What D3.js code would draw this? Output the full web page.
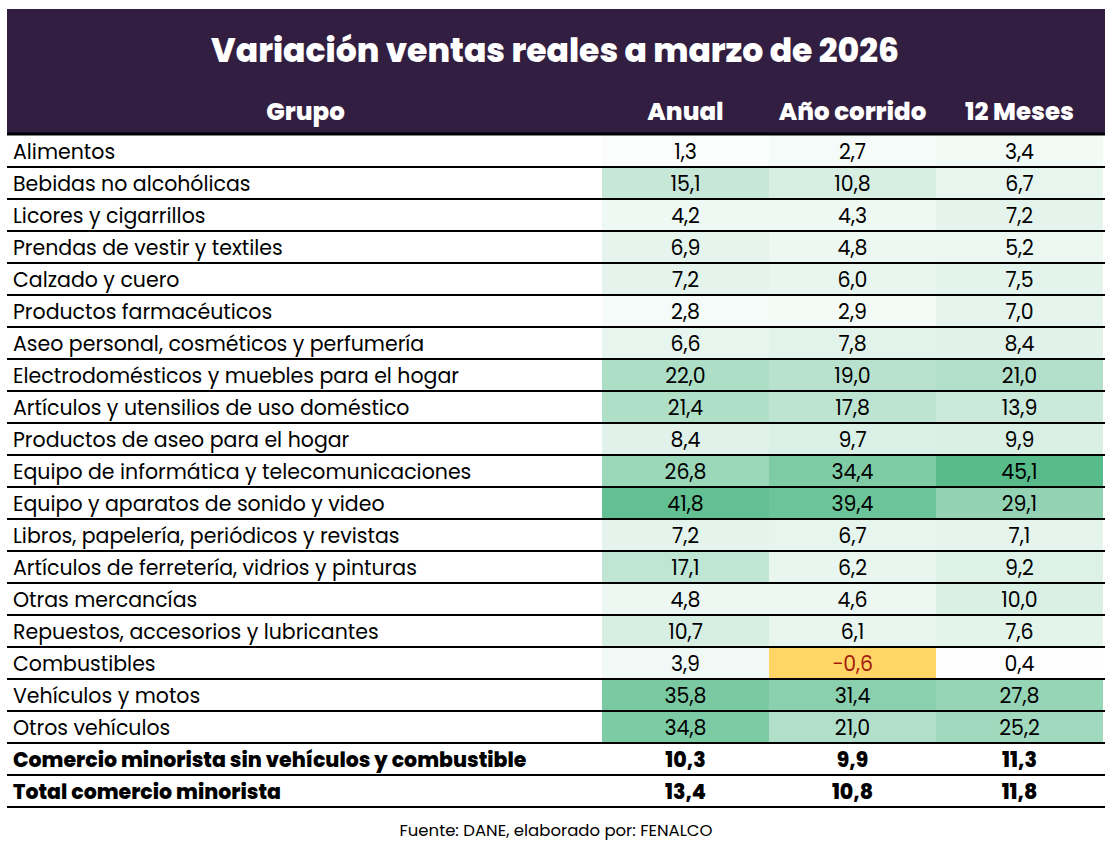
<!DOCTYPE html>
<html>
<head>
<meta charset="utf-8">
<script src="https://cdn.jsdelivr.net/npm/d3@7"></script>
<style>
  body { margin: 0; background: #fff; }
  text { font-family: Poppins, Inter, "Noto Sans", sans-serif; }
</style>
</head>
<body>
<div id="chart"></div>
<script>
// Table data
const title = "Variación ventas reales a marzo de 2026";
const columns = ["Anual", "Año corrido", "12 Meses"];
const grupos = [
  "Alimentos",
  "Bebidas no alcohólicas",
  "Licores y cigarrillos",
  "Prendas de vestir y textiles",
  "Calzado y cuero",
  "Productos farmacéuticos",
  "Aseo personal, cosméticos y perfumería",
  "Electrodomésticos y muebles para el hogar",
  "Artículos y utensilios de uso doméstico",
  "Productos de aseo para el hogar",
  "Equipo de informática y telecomunicaciones",
  "Equipo y aparatos de sonido y video",
  "Libros, papelería, periódicos y revistas",
  "Artículos de ferretería, vidrios y pinturas",
  "Otras mercancías",
  "Repuestos, accesorios y lubricantes",
  "Combustibles",
  "Vehículos y motos",
  "Otros vehículos",
  "Comercio minorista sin vehículos y combustible",
  "Total comercio minorista"
];
const anual = [1.3, 15.1, 4.2, 6.9, 7.2, 2.8, 6.6, 22.0, 21.4, 8.4, 26.8, 41.8, 7.2, 17.1, 4.8, 10.7, 3.9, 35.8, 34.8, 10.3, 13.4];
const anoCorrido = [2.7, 10.8, 4.3, 4.8, 6.0, 2.9, 7.8, 19.0, 17.8, 9.7, 34.4, 39.4, 6.7, 6.2, 4.6, 6.1, -0.6, 31.4, 21.0, 9.9, 10.8];
const meses12 = [3.4, 6.7, 7.2, 5.2, 7.5, 7.0, 8.4, 21.0, 13.9, 9.9, 45.1, 29.1, 7.1, 9.2, 10.0, 7.6, 0.4, 27.8, 25.2, 11.3, 11.8];
const totalRows = 2; // last two rows are totals (bold, no colour)
const fuente = "Fuente: DANE, elaborado por: FENALCO";

const width = 1114;
const height = 857;
const left = 7, right = 1105;
const headTop = 9, headBottom = 134;
const rowTop = 135, rowH = 32;
const colStart = 602;

const series = [anual, anoCorrido, meses12];

const svg = d3.select("#chart").append("svg")
  .attr("width", width)
  .attr("height", height);

const y = d3.scaleBand()
  .domain(d3.range(grupos.length))
  .range([rowTop, rowTop + rowH * grupos.length]);

const x = d3.scaleBand()
  .domain(columns)
  .range([colStart, 1103]);

// colour scale: yellow for negatives, white at zero, green for the max
const colored = series.flatMap(s => s.slice(0, grupos.length - totalRows));
const color = d3.scaleLinear()
  .domain([d3.min(colored), 0, d3.max(colored)])
  .range(["#ffd666", "#ffffff", "#57bb8a"])
  .clamp(true);

const fmt = v => d3.format(".1f")(v).replace(".", ",").replace("-", "−");

// header band
svg.append("rect")
  .attr("x", left).attr("y", headTop)
  .attr("width", right - left).attr("height", headBottom - headTop)
  .attr("fill", "#321e40");

svg.append("text")
  .attr("x", 555).attr("y", 50)
  .attr("text-anchor", "middle")
  .attr("dominant-baseline", "central")
  .attr("fill", "#fff")
  .attr("font-size", 33)
  .attr("font-weight", 800)
  .text(title);

svg.append("text")
  .attr("x", (left + colStart) / 2 + 1).attr("y", 111)
  .attr("text-anchor", "middle")
  .attr("dominant-baseline", "central")
  .attr("fill", "#fff")
  .attr("font-size", 24.5)
  .attr("font-weight", 800)
  .text("Grupo");

svg.append("g")
  .selectAll("text")
  .data(columns)
  .join("text")
    .attr("x", d => x(d) + x.bandwidth() / 2)
    .attr("y", 111)
    .attr("text-anchor", "middle")
    .attr("dominant-baseline", "central")
    .attr("fill", "#fff")
    .attr("font-size", 24.5)
    .attr("font-weight", 800)
    .text(d => d);

// cells
const cells = [];
grupos.forEach((g, i) => {
  series.forEach((s, j) => cells.push({ row: i, col: columns[j], v: s[i], total: i >= grupos.length - totalRows }));
});

svg.append("g")
  .selectAll("rect")
  .data(cells.filter(d => !d.total))
  .join("rect")
    .attr("x", d => x(d.col))
    .attr("y", d => y(d.row))
    .attr("width", x.bandwidth())
    .attr("height", y.bandwidth())
    .attr("fill", d => color(d.v));

svg.append("g")
  .selectAll("text")
  .data(grupos)
  .join("text")
    .attr("x", 13)
    .attr("y", (d, i) => y(i) + y.bandwidth() / 2)
    .attr("dominant-baseline", "central")
    .attr("fill", "#000")
    .attr("font-size", 20.5)
    .attr("font-weight", (d, i) => i >= grupos.length - totalRows ? 800 : 400)
    .text(d => d);

svg.append("g")
  .selectAll("text")
  .data(cells)
  .join("text")
    .attr("x", d => x(d.col) + x.bandwidth() / 2)
    .attr("y", d => y(d.row) + y.bandwidth() / 2)
    .attr("text-anchor", "middle")
    .attr("dominant-baseline", "central")
    .attr("fill", d => d.v < 0 ? "#a61c0c" : "#000")
    .attr("font-size", 20.5)
    .attr("font-weight", d => d.total ? 800 : 400)
    .text(d => fmt(d.v));

// row rules
svg.append("g")
  .selectAll("line")
  .data(d3.range(grupos.length + 1))
  .join("line")
    .attr("x1", left).attr("x2", right)
    .attr("y1", i => i === 0 ? rowTop - 1 : y(i - 1) + rowH)
    .attr("y2", i => i === 0 ? rowTop - 1 : y(i - 1) + rowH)
    .attr("stroke", "#000")
    .attr("stroke-width", i => i === 0 ? 3 : 2);

svg.append("text")
  .attr("x", 556).attr("y", 830)
  .attr("text-anchor", "middle")
  .attr("dominant-baseline", "central")
  .attr("fill", "#000")
  .attr("font-size", 16.5)
  .text(fuente);
</script>
</body>
</html>
